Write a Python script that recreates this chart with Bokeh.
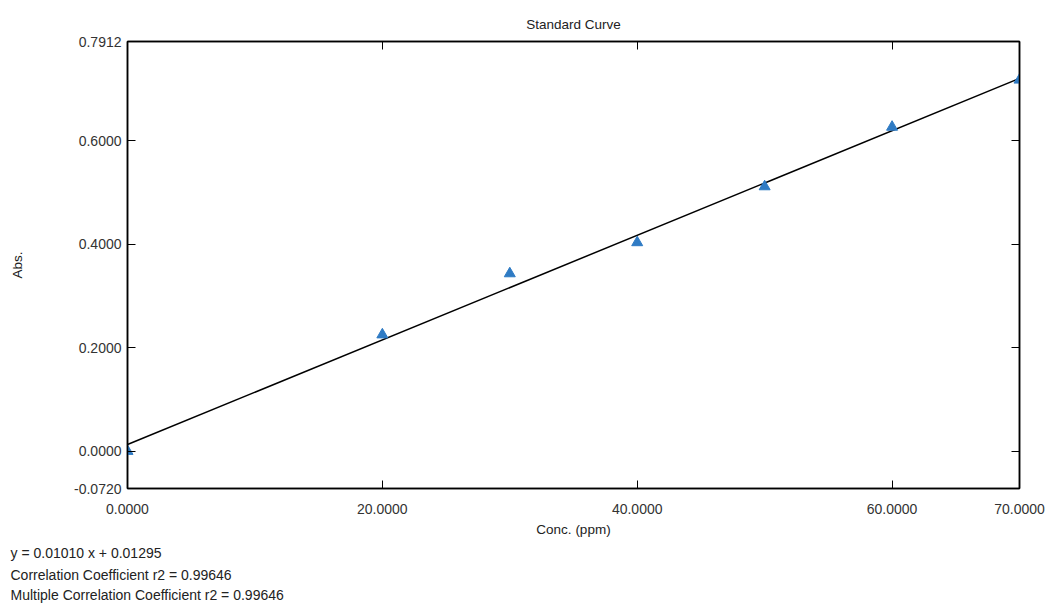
from bokeh.plotting import figure
from bokeh.models import (FixedTicker, NumeralTickFormatter, LinearAxis, Title, Range1d)
from bokeh.embed import file_html
from bokeh.resources import INLINE

conc = [0, 20, 30, 40, 50, 60, 70]
absorb = [0.0, 0.225, 0.343, 0.403, 0.511, 0.626, 0.717]
slope = 0.01010
intercept = 0.01295
x_ticks = [0, 20, 40, 60, 70]
y_ticks = [-0.072, 0.0, 0.2, 0.4, 0.6, 0.7912]
notes = ["y = 0.01010 x + 0.01295",
         "Correlation Coefficient r2 = 0.99646",
         "Multiple Correlation Coefficient r2 = 0.99646"]

FONT = "Liberation Sans"
FS = "14px"

p = figure(width=1054, height=603, output_backend="svg", toolbar_location=None,
           x_range=Range1d(0, 70), y_range=Range1d(-0.072, 0.7912),
           min_border_left=127, min_border_right=35, min_border_top=41, min_border_bottom=114,
           title="Standard Curve")
p.title.align = "center"
p.title.text_font = FONT
p.title.text_font_size = "13.5px"
p.title.text_font_style = "normal"
p.title.text_color = "#222222"
p.title.standoff = 19
p.grid.visible = False
p.outline_line_color = "black"
p.outline_line_width = 1.5
p.background_fill_color = "white"
p.border_fill_color = "white"

for ax in p.xaxis:
    ax.ticker = FixedTicker(ticks=x_ticks)
    ax.formatter = NumeralTickFormatter(format="0.0000")
    ax.axis_label = "Conc. (ppm)"
for ax in p.yaxis:
    ax.ticker = FixedTicker(ticks=y_ticks)
    ax.formatter = NumeralTickFormatter(format="0.0000")
    ax.axis_label = "Abs."

for ax in p.xaxis + p.yaxis:
    ax.major_tick_in = 8
    ax.major_tick_out = 0
    ax.minor_tick_line_color = None
    ax.axis_line_color = "black"
    ax.axis_line_width = 1.5
    ax.major_tick_line_color = "black"
    ax.major_label_text_font = FONT
    ax.major_label_text_font_size = FS
    ax.major_label_text_color = "#333333"
    ax.axis_label_text_font = FONT
    ax.axis_label_text_font_size = "13.5px"
    ax.axis_label_text_font_style = "normal"
    ax.axis_label_text_color = "#222222"

p.xaxis.major_label_standoff = 15
p.xaxis.axis_label_standoff = 5
p.yaxis.major_label_standoff = 6
p.yaxis.axis_label_standoff = 46

empty_x = {t: "" for t in x_ticks}
empty_y = {t: "" for t in y_ticks}
top = LinearAxis(ticker=FixedTicker(ticks=x_ticks), major_label_overrides=empty_x,
                 major_tick_in=8, major_tick_out=0, minor_tick_line_color=None,
                 axis_line_color="black", axis_line_width=1.5, major_label_standoff=0)
right = LinearAxis(ticker=FixedTicker(ticks=y_ticks), major_label_overrides=empty_y,
                   major_tick_in=8, major_tick_out=0, minor_tick_line_color=None,
                   axis_line_color="black", axis_line_width=1.5, major_label_standoff=0)
p.add_layout(top, "above")
p.add_layout(right, "right")

xl = [0, 70]
yl = [slope * v + intercept for v in xl]
p.line(xl, yl, line_color="black", line_width=1.5)
p.scatter(conc, absorb, marker="triangle", size=11, fill_color="#2f7bc4",
          line_color="#2f7bc4")

for i, t in enumerate(notes):
    p.add_layout(Title(text=t, align="left", offset=-117, text_font=FONT,
                       text_font_size="14px", text_font_style="normal",
                       text_color="#222222", standoff=(6 if i == 0 else 2)), "below")

open("out.html", "w").write(file_html(p, INLINE))
